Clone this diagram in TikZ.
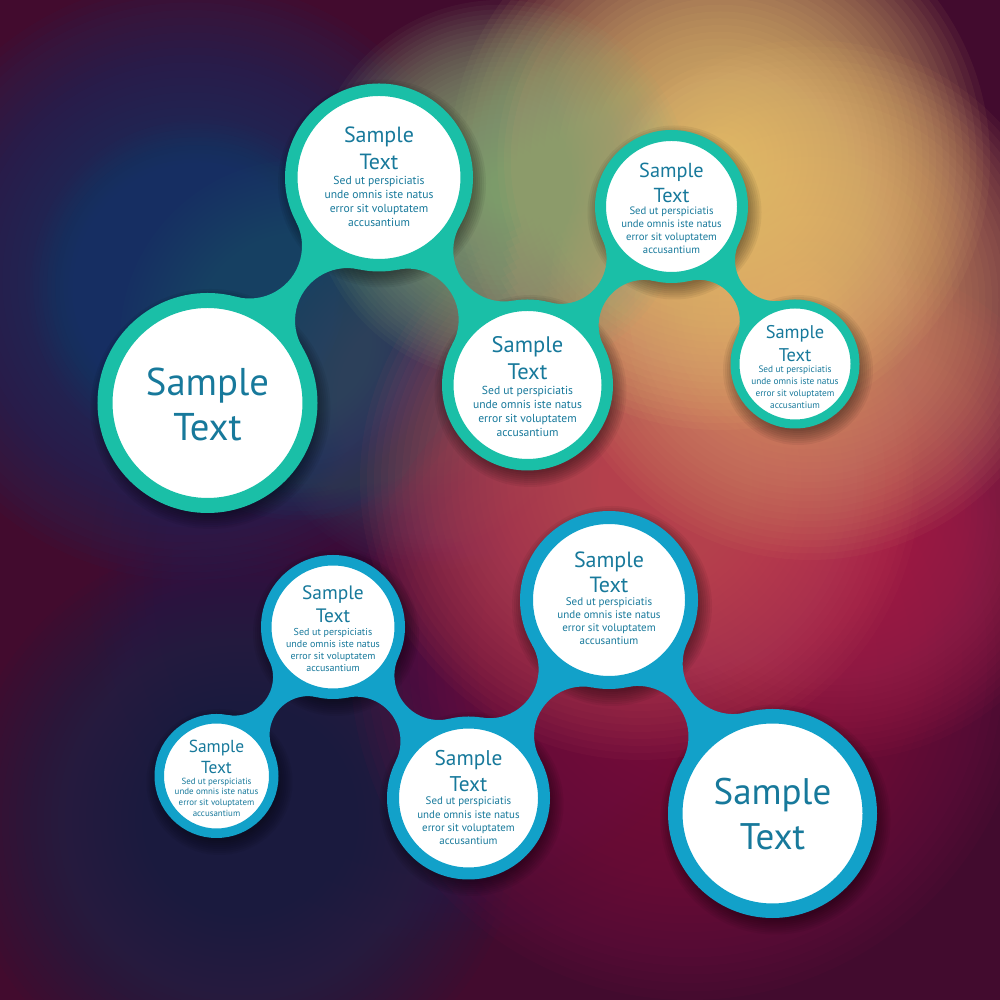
\documentclass[tikz,border=0pt]{standalone}
\usepackage{fontspec}
\setmainfont{PT Sans}
\pgfdeclarelayer{bgl}
\pgfdeclarelayer{midl}
\pgfsetlayers{bgl,midl,main}

\definecolor{ringT}{HTML}{1ABFA7}
\definecolor{ringB}{HTML}{12A1C9}
\definecolor{txtc}{HTML}{17799B}
\definecolor{bgbase}{HTML}{420B2E}
\definecolor{bgpurple}{RGB}{58,24,72}
\definecolor{bgnavyB}{RGB}{26,42,78}
\definecolor{bgnavyT}{RGB}{24,54,106}
\definecolor{bgblue}{RGB}{22,62,114}
\definecolor{bgteal}{RGB}{23,80,106}
\definecolor{bgslate}{RGB}{60,66,94}
\definecolor{bgmag}{RGB}{134,12,68}
\definecolor{bgcrim}{RGB}{176,40,82}
\definecolor{bgsalm}{RGB}{196,80,92}
\definecolor{bgorange}{RGB}{216,152,106}
\definecolor{bgyellow}{RGB}{236,198,116}
\definecolor{bgolive}{RGB}{140,171,122}

% centres and radii (1 unit = 100px)
\def\mbAx{2.075}\def\mbAy{5.97}\def\mbAr{1.10}
\def\mbBx{3.79}\def\mbBy{8.225}\def\mbBr{0.94}
\def\mbCx{5.275}\def\mbCy{6.15}\def\mbCr{0.855}
\def\mbDx{6.715}\def\mbDy{7.935}\def\mbDr{0.765}
\def\mbEx{7.95}\def\mbEy{6.36}\def\mbEr{0.645}
\def\mbFx{2.165}\def\mbFy{2.24}\def\mbFr{0.62}
\def\mbGx{3.33}\def\mbGy{3.73}\def\mbGr{0.72}
\def\mbHx{4.685}\def\mbHy{2.02}\def\mbHr{0.815}
\def\mbIx{6.09}\def\mbIy{4.0}\def\mbIr{0.89}
\def\mbJx{7.725}\def\mbJy{1.865}\def\mbJr{1.045}

\newcommand\bridge[4]{%
 \edef\xa{\csname mb#1x\endcsname}\edef\ya{\csname mb#1y\endcsname}\edef\ra{\csname mb#1r\endcsname}%
 \edef\xb{\csname mb#2x\endcsname}\edef\yb{\csname mb#2y\endcsname}\edef\rb{\csname mb#2r\endcsname}%
 \pgfmathsetmacro\mbdx{(\xb)-(\xa)}%
 \pgfmathsetmacro\mbdy{(\yb)-(\ya)}%
 \pgfmathsetmacro\mbd{sqrt((\mbdx)*(\mbdx)+(\mbdy)*(\mbdy))}%
 \pgfmathsetmacro\mbux{(\mbdx)/(\mbd)}%
 \pgfmathsetmacro\mbuy{(\mbdy)/(\mbd)}%
 \pgfmathsetmacro\mbsa{(\ra)+(#3)}%
 \pgfmathsetmacro\mbsb{(\rb)+(#3)}%
 \pgfmathsetmacro\mba{((\mbsa)*(\mbsa)-(\mbsb)*(\mbsb)+(\mbd)*(\mbd))/(2*(\mbd))}%
 \pgfmathsetmacro\mbh{sqrt((\mbsa)*(\mbsa)-(\mba)*(\mba))}%
 \pgfmathsetmacro\pax{(\xa)+(\mba)*(\mbux)-(\mbh)*(\mbuy)}%
 \pgfmathsetmacro\pay{(\ya)+(\mba)*(\mbuy)+(\mbh)*(\mbux)}%
 \pgfmathsetmacro\pbx{(\xa)+(\mba)*(\mbux)+(\mbh)*(\mbuy)}%
 \pgfmathsetmacro\pby{(\ya)+(\mba)*(\mbuy)-(\mbh)*(\mbux)}%
 \pgfmathsetmacro\tax{(\pax)+((\xa)-(\pax))*(#3)/(\mbsa)}%
 \pgfmathsetmacro\tay{(\pay)+((\ya)-(\pay))*(#3)/(\mbsa)}%
 \pgfmathsetmacro\aas{atan2((\ya)-(\pay),(\xa)-(\pax))}%
 \pgfmathsetmacro\aae{atan2((\yb)-(\pay),(\xb)-(\pax))}%
 \pgfmathsetmacro\aad{mod((\aae)-(\aas)+540,360)-180}%
 \pgfmathsetmacro\tbx{(\pbx)+((\xb)-(\pbx))*(#3)/(\mbsb)}%
 \pgfmathsetmacro\tby{(\pby)+((\yb)-(\pby))*(#3)/(\mbsb)}%
 \pgfmathsetmacro\bbs{atan2((\yb)-(\pby),(\xb)-(\pbx))}%
 \pgfmathsetmacro\bbe{atan2((\ya)-(\pby),(\xa)-(\pbx))}%
 \pgfmathsetmacro\bbd{mod((\bbe)-(\bbs)+540,360)-180}%
 \fill[fill=#4] (#1.center) -- (\tax,\tay) arc[start angle=\aas, delta angle=\aad, radius=#3]
   -- (#2.center) -- (\tbx,\tby) arc[start angle=\bbs, delta angle=\bbd, radius=#3] -- cycle;
}

% soft drop shadow: stack of translucent discs
\newcommand\cshadow[2]{%
 \foreach \k in {0,...,7}{%
  \fill[black, opacity=0.055] ([xshift=3pt,yshift=-6pt]#1.center) circle[radius={(#2+2*\k)*1pt}];
 }%
}
% soft background glow: stack of translucent discs
\newcommand\blob[4]{%
 \foreach \k in {1,...,40}{%
  \fill[#1, opacity=0.06] (#2,#3) circle[radius={#4*\k/40}];
 }%
}

\tikzset{
 ringT/.style={circle, inner sep=0pt, fill=white, draw=ringT},
 ringB/.style={circle, inner sep=0pt, fill=white, draw=ringB},
 lbl/.style={align=center, text=txtc, inner sep=0pt},
}

\begin{document}
\begin{tikzpicture}[x=100pt, y=100pt]
\useasboundingbox (0,0) rectangle (10,10);

% ---------- background ----------
\begin{pgfonlayer}{bgl}
\clip (0,0) rectangle (10,10);
\fill[bgbase] (0,0) rectangle (10,10);
\blob{bgpurple}{4.5}{4.2}{3.6}
\blob{bgnavyB}{2.4}{1.8}{2.8}
\blob{bgnavyT}{1.9}{7.2}{3.0}
\blob{bgblue}{2.0}{7.1}{1.7}
\blob{bgteal}{3.0}{6.6}{1.8}
\blob{bgslate}{4.3}{6.0}{1.7}
\blob{bgmag}{6.9}{3.4}{3.4}
\blob{bgcrim}{8.4}{4.9}{2.5}
\blob{bgsalm}{6.4}{5.2}{2.8}
\blob{bgorange}{8.1}{7.0}{2.6}
\blob{bgyellow}{7.2}{8.4}{2.7}
\blob{bgolive}{5.0}{8.1}{1.9}
\end{pgfonlayer}

% ---------- circles ----------
\node[ringT, minimum size=205pt,   line width=15pt]   (A) at (\mbAx,\mbAy) {};
\node[ringT, minimum size=175.5pt, line width=12.5pt] (B) at (\mbBx,\mbBy) {};
\node[ringT, minimum size=159.5pt, line width=11.5pt] (C) at (\mbCx,\mbCy) {};
\node[ringT, minimum size=142pt,   line width=11pt]   (D) at (\mbDx,\mbDy) {};
\node[ringT, minimum size=120pt,   line width=9pt]    (E) at (\mbEx,\mbEy) {};
\node[ringB, minimum size=114.5pt, line width=9.5pt]  (F) at (\mbFx,\mbFy) {};
\node[ringB, minimum size=133.5pt, line width=10.5pt] (G) at (\mbGx,\mbGy) {};
\node[ringB, minimum size=151pt,   line width=12pt]   (H) at (\mbHx,\mbHy) {};
\node[ringB, minimum size=165pt,   line width=13pt]   (I) at (\mbIx,\mbIy) {};
\node[ringB, minimum size=194.5pt, line width=14.5pt] (J) at (\mbJx,\mbJy) {};

% ---------- texts ----------
\node[lbl, font=\fontsize{38.7}{45}\selectfont, yshift=-1.5pt] (At) at (A) {Sample\\Text};
\node[lbl, font=\fontsize{22}{27}\selectfont, yshift=29pt] (Bt) at (B) {Sample\\Text};
\node[lbl, font=\fontsize{11.6}{14}\selectfont, yshift=-23.5pt] (Bb) at (B) {Sed ut perspiciatis\\unde omnis iste natus\\error sit voluptatem\\accusantium};
\node[lbl, font=\fontsize{22.5}{27}\selectfont, yshift=26.5pt] (Ct) at (C) {Sample\\Text};
\node[lbl, font=\fontsize{11.6}{14}\selectfont, yshift=-26pt] (Cb) at (C) {Sed ut perspiciatis\\unde omnis iste natus\\error sit voluptatem\\accusantium};
\node[lbl, font=\fontsize{20.3}{25}\selectfont, yshift=24pt] (Dt) at (D) {Sample\\Text};
\node[lbl, font=\fontsize{10.7}{13}\selectfont, yshift=-24.25pt] (Db) at (D) {Sed ut perspiciatis\\unde omnis iste natus\\error sit voluptatem\\accusantium};
\node[lbl, font=\fontsize{18.4}{23}\selectfont, yshift=20.5pt] (Et) at (E) {Sample\\Text};
\node[lbl, font=\fontsize{9.3}{12}\selectfont, yshift=-23pt] (Eb) at (E) {Sed ut perspiciatis\\unde omnis iste natus\\error sit voluptatem\\accusantium};
\node[lbl, font=\fontsize{17.4}{21}\selectfont, yshift=19.5pt] (Ft) at (F) {Sample\\Text};
\node[lbl, font=\fontsize{8.9}{10.7}\selectfont, yshift=-21pt] (Fb) at (F) {Sed ut perspiciatis\\unde omnis iste natus\\error sit voluptatem\\accusantium};
\node[lbl, font=\fontsize{19.4}{23}\selectfont, yshift=22.5pt] (Gt) at (G) {Sample\\Text};
\node[lbl, font=\fontsize{10}{12}\selectfont, yshift=-23pt] (Gb) at (G) {Sed ut perspiciatis\\unde omnis iste natus\\error sit voluptatem\\accusantium};
\node[lbl, font=\fontsize{21.3}{26}\selectfont, yshift=27pt] (Ht) at (H) {Sample\\Text};
\node[lbl, font=\fontsize{10.9}{13.3}\selectfont, yshift=-23pt] (Hb) at (H) {Sed ut perspiciatis\\unde omnis iste natus\\error sit voluptatem\\accusantium};
\node[lbl, font=\fontsize{22}{25}\selectfont, yshift=27.5pt] (It) at (I) {Sample\\Text};
\node[lbl, font=\fontsize{11}{13}\selectfont, yshift=-21.5pt] (Ib) at (I) {Sed ut perspiciatis\\unde omnis iste natus\\error sit voluptatem\\accusantium};
\node[lbl, font=\fontsize{37}{45}\selectfont, yshift=-1pt] (Jt) at (J) {Sample\\Text};

% ---------- shadows and connectors ----------
\begin{pgfonlayer}{midl}
\cshadow{A}{106}\cshadow{B}{90}\cshadow{C}{82}\cshadow{D}{73}\cshadow{E}{61}
\cshadow{F}{59}\cshadow{G}{69}\cshadow{H}{78}\cshadow{I}{86}\cshadow{J}{101}
\bridge{A}{B}{0.525}{ringT}
\bridge{B}{C}{0.51}{ringT}
\bridge{C}{D}{0.455}{ringT}
\bridge{D}{E}{0.41}{ringT}
\bridge{F}{G}{0.385}{ringB}
\bridge{G}{H}{0.445}{ringB}
\bridge{H}{I}{0.49}{ringB}
\bridge{I}{J}{0.505}{ringB}
\end{pgfonlayer}
\end{tikzpicture}
\end{document}
